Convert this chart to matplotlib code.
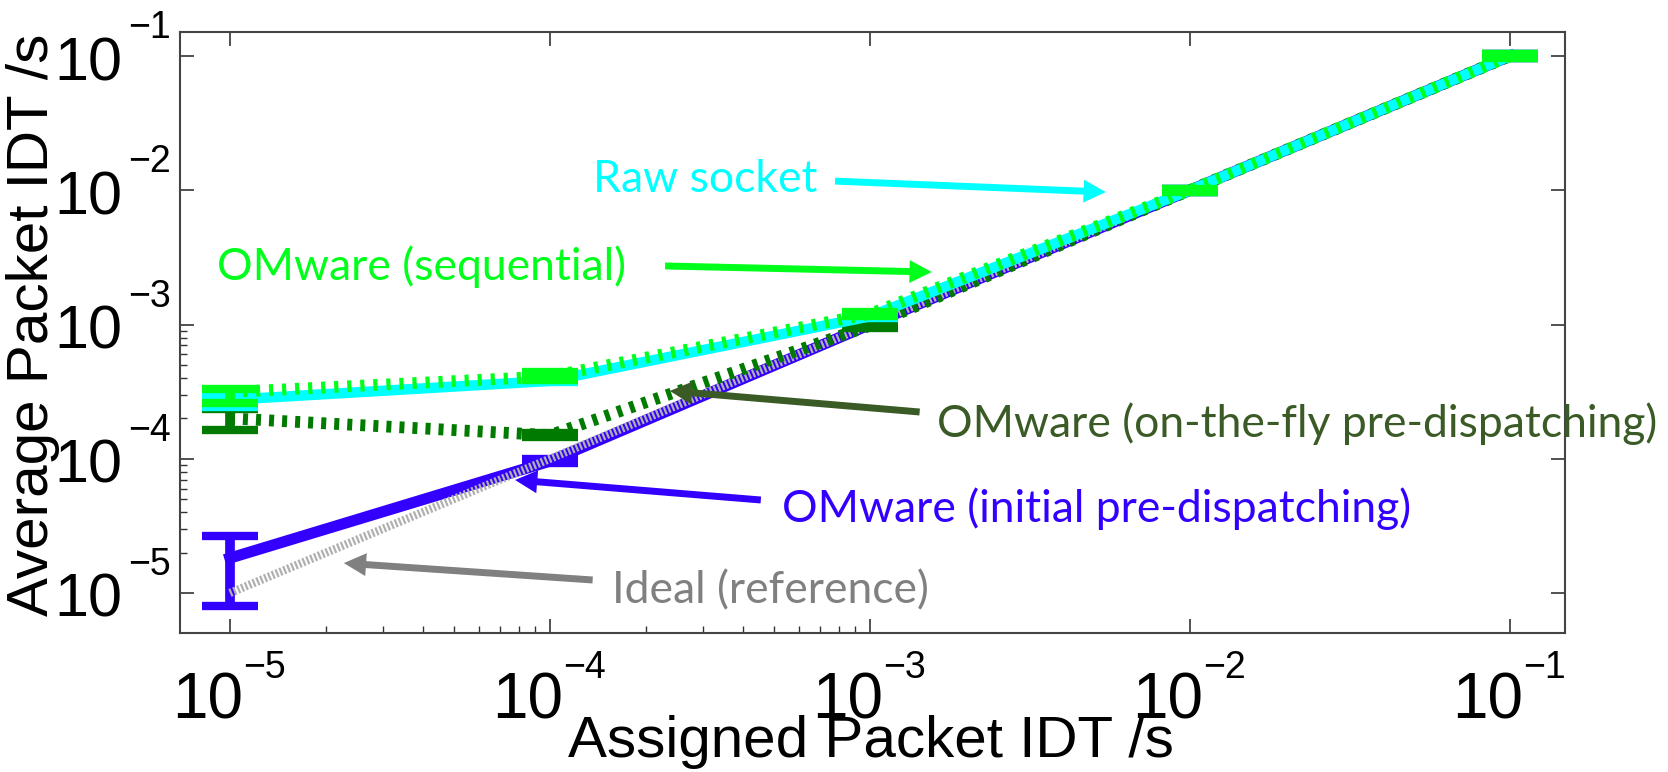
import numpy as np
import matplotlib
matplotlib.use("Agg")
import matplotlib.pyplot as plt
from matplotlib.ticker import FixedLocator, NullFormatter

plt.rcParams['lines.scale_dashes'] = False

# measured inter-departure times, seconds
assigned = [1e-5, 1e-4, 1e-3, 1e-2, 1e-1]
ideal = [1e-5, 1e-4, 1e-3, 1e-2, 1e-1]

initial = [1.82e-5, 9.6e-5, 1.0e-3, 1.0e-2, 1.0e-1]
initial_lo = [8.0e-6, 9.3e-5, 9.7e-4, 9.7e-3, 9.7e-2]
initial_hi = [2.66e-5, 9.9e-5, 1.03e-3, 1.03e-2, 1.03e-1]

onthefly = [2.0e-4, 1.5e-4, 9.8e-4, 1.0e-2, 1.0e-1]
onthefly_lo = [1.64e-4, 1.45e-4, 9.5e-4, 9.7e-3, 9.7e-2]
onthefly_hi = [2.35e-4, 1.55e-4, 1.01e-3, 1.03e-2, 1.03e-1]

rawsock = [2.75e-4, 3.8e-4, 1.15e-3, 1.0e-2, 1.0e-1]
rawsock_lo = [2.43e-4, 3.7e-4, 1.12e-3, 9.7e-3, 9.7e-2]
rawsock_hi = [3.0e-4, 3.9e-4, 1.18e-3, 1.03e-2, 1.03e-1]

sequential = [3.14e-4, 4.1e-4, 1.2e-3, 1.0e-2, 1.0e-1]
sequential_lo = [2.6e-4, 3.85e-4, 1.16e-3, 9.7e-3, 9.7e-2]
sequential_hi = [3.31e-4, 4.4e-4, 1.24e-3, 1.03e-2, 1.03e-1]

exponents = [-5, -4, -3, -2, -1]

BLUE = '#3300ff'
CYAN = '#00ffff'
GREEN = '#00ff1a'
DKGREEN = '#007a00'
OLIVE = '#3a5a26'
GRAY = '#808080'


def err(y, lo, hi):
    y = np.array(y)
    return [y - np.array(lo), np.array(hi) - y]


fig = plt.figure(figsize=(16.68, 7.72), dpi=100)
ax = fig.add_axes([0.10791, 0.18005, 0.83034, 0.7785])
ax.set_xscale('log')
ax.set_yscale('log')

cap = dict(capsize=20.5, capthick=6, elinewidth=7)
ax.errorbar(assigned, initial, yerr=err(initial, initial_lo, initial_hi),
            color=BLUE, lw=8, ls='-', zorder=2, **cap)
ax.plot(assigned, ideal, color='#b0b0b0', lw=6, ls=(0, (1.6, 1.4)), zorder=3)
ax.errorbar(assigned, onthefly, yerr=err(onthefly, onthefly_lo, onthefly_hi),
            color=DKGREEN, lw=8.5, ls=(0, (3.6, 5.8)), zorder=4, **cap)
ax.errorbar(assigned, rawsock, yerr=err(rawsock, rawsock_lo, rawsock_hi),
            color=CYAN, lw=7.5, ls='-', zorder=5, **cap)
ax.errorbar(assigned, sequential, yerr=err(sequential, sequential_lo, sequential_hi),
            color=GREEN, lw=8.5, ls=(0, (3, 6.4)), zorder=6, **cap)

ax.set_xlim(10 ** -5.156, 10 ** -0.828)
ax.set_ylim(10 ** -5.298, 10 ** -0.821)

# ticks: majors on every decade, minors only over the lower two decades
minors = [m * d for d in (1e-5, 1e-4) for m in range(2, 10)]
for axis in (ax.xaxis, ax.yaxis):
    axis.set_major_locator(FixedLocator(assigned))
    axis.set_minor_locator(FixedLocator(minors))
    axis.set_major_formatter(NullFormatter())
    axis.set_minor_formatter(NullFormatter())
ax.tick_params(which='major', direction='in', length=10, width=1.2,
               top=True, right=True, color='#333333')
ax.tick_params(which='minor', direction='in', length=5, width=1.0,
               top=False, right=False, color='#333333')
for sp in ax.spines.values():
    sp.set_linewidth(1.5)
    sp.set_color('#444444')

# tick labels drawn as "10" with a separate smaller exponent
tickfont = 'Liberation Sans'
for v, e in zip(assigned, exponents):
    ax.annotate('10', xy=(v, 0), xycoords=('data', 'axes fraction'),
                xytext=(13, -85), textcoords='offset pixels',
                ha='right', va='baseline', fontsize=46, family=tickfont)
    ax.annotate('\u2212%d' % -e, xy=(v, 0), xycoords=('data', 'axes fraction'),
                xytext=(13, -45), textcoords='offset pixels',
                ha='left', va='baseline', fontsize=27, family=tickfont)
    ax.annotate('10', xy=(0, v), xycoords=('axes fraction', 'data'),
                xytext=(-58, -24), textcoords='offset pixels',
                ha='right', va='baseline', fontsize=44, family=tickfont)
    ax.annotate('\u2212%d' % -e, xy=(0, v), xycoords=('axes fraction', 'data'),
                xytext=(-52, 18), textcoords='offset pixels',
                ha='left', va='baseline', fontsize=27, family=tickfont)

fig.text(871, 772 - 757, 'Assigned Packet IDT /s', transform=None,
         ha='center', va='baseline', fontsize=42, family='Liberation Sans')
fig.text(60, 772 - 325, 'Average Packet IDT /s', transform=None, rotation=90,
         ha='right', va='center', fontsize=42, family='Liberation Sans')

# callouts
notes = [
    ('Raw socket', CYAN, (1.36e-4, 9.7e-3), (7.78e-4, 1.17e-2), (5.46e-3, 9.7e-3)),
    ('OMware (sequential)', GREEN, (9.1e-6, 2.14e-3), (2.29e-4, 2.73e-3), (1.56e-3, 2.46e-3)),
    ('OMware (on-the-fly pre-dispatching)', OLIVE, (1.62e-3, 1.45e-4), (1.43e-3, 2.23e-4), (2.37e-4, 3.2e-4)),
    ('OMware (initial pre-dispatching)', BLUE, (5.31e-4, 3.38e-5), (4.56e-4, 4.93e-5), (7.78e-5, 6.95e-5)),
    ('Ideal (reference)', GRAY, (1.56e-4, 8.4e-6), (1.36e-4, 1.25e-5), (2.27e-5, 1.67e-5)),
]
for label, col, tpos, tail, tip in notes:
    ax.text(tpos[0], tpos[1], label, color=col, fontsize=32, family='Lato',
            ha='left', va='baseline', zorder=10, clip_on=False)
    ax.annotate('', xy=tip, xytext=tail, zorder=9, annotation_clip=False,
                arrowprops=dict(arrowstyle='simple,head_length=1.6,head_width=1.65,tail_width=0.5',
                                mutation_scale=10, color=col, lw=0,
                                shrinkA=0, shrinkB=0))

fig.savefig('out.png', dpi=100, facecolor='white')
